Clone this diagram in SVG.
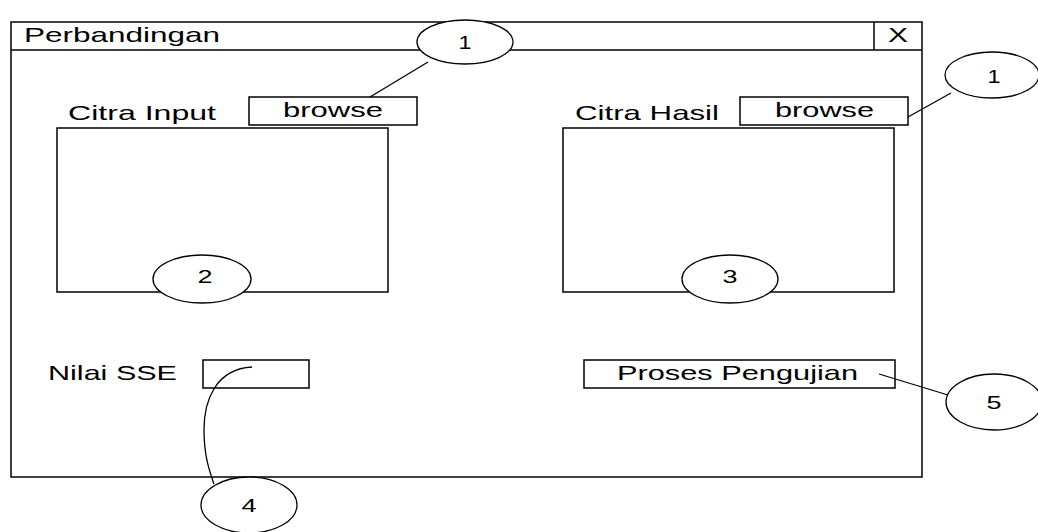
<svg xmlns="http://www.w3.org/2000/svg" width="1038" height="532" viewBox="0 0 1038 532">
  <style>
    .box { fill: #ffffff; stroke: #000000; stroke-width: 1.5; }
    .bub { fill: #ffffff; stroke: #000000; stroke-width: 1.3; }
    .wire { fill: none; stroke: #000000; stroke-width: 1.3; }
    text { font-family: "Liberation Sans", Arial, sans-serif; fill: #000000; }
    .lbl { font-size: 21px; }
    .num { font-size: 18px; text-anchor: middle; }
  </style>
  <rect width="1038" height="532" fill="#ffffff"/>

  <!-- window frame -->
  <g id="window">
    <rect class="box" x="11" y="22" width="911" height="455"/>
    <line x1="11" y1="50" x2="922" y2="50" stroke="#000" stroke-width="1.5"/>
    <line x1="874" y1="22" x2="874" y2="50" stroke="#000" stroke-width="1.5"/>
    <text class="lbl" x="24" y="42" textLength="196" lengthAdjust="spacingAndGlyphs" font-size="20">Perbandingan</text>
    <text class="lbl" x="888" y="42" textLength="20" lengthAdjust="spacingAndGlyphs" font-size="19">X</text>
  </g>

  <!-- input image panel -->
  <g id="citra-input">
    <text class="lbl" x="68" y="120" textLength="148" lengthAdjust="spacingAndGlyphs">Citra Input</text>
    <rect class="box" x="57" y="128" width="331" height="164"/>
  </g>
  <g id="browse-input">
    <rect class="box" x="249" y="97" width="168" height="28"/>
    <text class="lbl" x="283" y="117" textLength="100" lengthAdjust="spacingAndGlyphs" font-size="20">browse</text>
  </g>

  <!-- result image panel -->
  <g id="citra-hasil">
    <text class="lbl" x="575" y="120" textLength="144" lengthAdjust="spacingAndGlyphs">Citra Hasil</text>
    <rect class="box" x="563" y="128" width="331" height="164"/>
  </g>
  <g id="browse-hasil">
    <rect class="box" x="740" y="97" width="168" height="28"/>
    <text class="lbl" x="775" y="117" textLength="99" lengthAdjust="spacingAndGlyphs" font-size="20">browse</text>
  </g>

  <!-- SSE output -->
  <g id="nilai-sse">
    <text class="lbl" x="48" y="380" textLength="129" lengthAdjust="spacingAndGlyphs">Nilai SSE</text>
    <rect class="box" x="203" y="360" width="106" height="28"/>
  </g>

  <!-- process button -->
  <g id="proses-pengujian">
    <rect class="box" x="584" y="360" width="311" height="28"/>
    <text class="lbl" x="617" y="380" textLength="241" lengthAdjust="spacingAndGlyphs">Proses Pengujian</text>
  </g>

  <!-- callout leaders -->
  <g id="connectors">
    <line class="wire" x1="370" y1="97" x2="428" y2="62"/>
    <line class="wire" x1="908" y1="117" x2="951" y2="93"/>
    <path class="wire" d="M252,367 C216,369 204,400 204,430 C204,455 209,470 214,484"/>
    <line class="wire" x1="879" y1="374" x2="948" y2="395"/>
  </g>

  <!-- numbered callouts -->
  <g id="callout-1a">
    <ellipse class="bub" cx="465" cy="42" rx="48" ry="22"/>
    <text class="num" x="465" y="49" textLength="13" lengthAdjust="spacingAndGlyphs">1</text>
  </g>
  <g id="callout-1b">
    <ellipse class="bub" cx="992" cy="75" rx="47" ry="23"/>
    <text class="num" x="994" y="83" textLength="13" lengthAdjust="spacingAndGlyphs">1</text>
  </g>
  <g id="callout-2">
    <ellipse class="bub" cx="202" cy="279" rx="49" ry="24"/>
    <text class="num" x="205" y="283" textLength="15" lengthAdjust="spacingAndGlyphs">2</text>
  </g>
  <g id="callout-3">
    <ellipse class="bub" cx="730" cy="279" rx="48" ry="24"/>
    <text class="num" x="730" y="283" textLength="15" lengthAdjust="spacingAndGlyphs">3</text>
  </g>
  <g id="callout-4">
    <ellipse class="bub" cx="249" cy="505" rx="48" ry="28"/>
    <text class="num" x="249" y="512" textLength="15" lengthAdjust="spacingAndGlyphs">4</text>
  </g>
  <g id="callout-5">
    <ellipse class="bub" cx="994" cy="402" rx="48" ry="28"/>
    <text class="num" x="994" y="409" textLength="15" lengthAdjust="spacingAndGlyphs">5</text>
  </g>
</svg>
